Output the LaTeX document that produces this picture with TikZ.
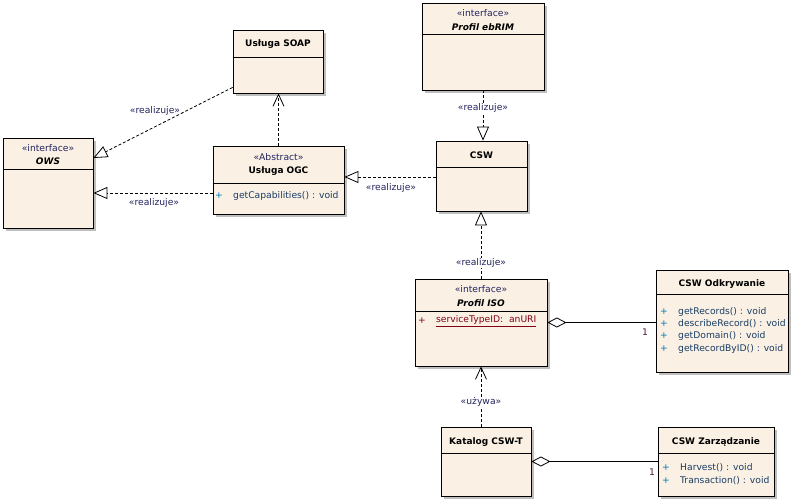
\documentclass[tikz,border=0pt]{standalone}
\usepackage{fontspec}
\setmainfont{DejaVu Sans}
\usepackage{tikz}
\usetikzlibrary{arrows.meta,shadows}
\definecolor{klasatlo}{RGB}{250,241,228}
\definecolor{cien}{RGB}{190,190,190}
\definecolor{opkolor}{RGB}{25,60,100}
\definecolor{pluskolor}{RGB}{0,120,185}
\definecolor{etykolor}{RGB}{35,35,95}
\definecolor{atrkolor}{RGB}{130,0,20}
\definecolor{krotkolor}{RGB}{90,20,60}

\begin{document}
\begin{tikzpicture}[x=1pt, y=-1pt,
  klasa/.style={draw, line width=0.8pt, fill=klasatlo, inner sep=0pt,
    general shadow={fill=cien, shadow xshift=3pt, shadow yshift=-3pt}},
  txt/.style={font=\fontsize{9.2}{11}\selectfont, inner sep=0pt},
  tytul/.style={txt, font=\fontsize{9}{11}\selectfont\bfseries},
  ityt/.style={txt, font=\fontsize{9}{11}\selectfont\bfseries\itshape},
  op/.style={txt, text=opkolor, anchor=west},
  plus/.style={txt, text=pluskolor},
  ety/.style={txt, text=etykolor},
  realiz/.style={line width=0.8pt, dash pattern=on 3pt off 2pt,
    -{Triangle[open, length=14pt, width=12pt, line width=0.8pt]}},
  uzywa/.style={line width=0.8pt, dash pattern=on 3pt off 2pt,
    -{Straight Barb[length=12pt, width=11pt, line width=0.8pt]}},
  agreg/.style={line width=0.8pt,
    {Diamond[open, length=19pt, width=10pt, line width=0.8pt]}-}]
\useasboundingbox (0,0) rectangle (804,503);

% klasy
\node[klasa, minimum width=90pt, minimum height=90pt] (ows) at (48,183) {};
\draw[line width=0.8pt] (ows.west |- 0,169) -- (ows.east |- 0,169);
\node[ety] (owsst) at (48,148) {«interface»};
\node[ityt] (owsnaz) at (48,161) {OWS};

\node[klasa, minimum width=90pt, minimum height=63pt] (soap) at (278,61.5) {};
\draw[line width=0.8pt] (soap.west |- 0,57) -- (soap.east |- 0,57);
\node[tytul] (soapnaz) at (278,44) {Usługa SOAP};

\node[klasa, minimum width=131pt, minimum height=68pt] (ogc) at (278.5,180) {};
\draw[line width=0.8pt] (ogc.west |- 0,183) -- (ogc.east |- 0,183);
\node[ety] (ogcst) at (278.5,157) {«Abstract»};
\node[tytul] (ogcnaz) at (278.5,171) {Usługa OGC};
\node[plus] (ogcplus) at (219,196) {+};
\node[op] (ogcop) at (233,196) {getCapabilities() : void};

\node[klasa, minimum width=122pt, minimum height=87pt] (ebrim) at (483,46.5) {};
\draw[line width=0.8pt] (ebrim.west |- 0,34) -- (ebrim.east |- 0,34);
\node[ety] (ebrimst) at (483,13) {«interface»};
\node[ityt] (ebrimnaz) at (483,27) {Profil ebRIM};

\node[klasa, minimum width=91pt, minimum height=70pt] (csw) at (481.5,176) {};
\draw[line width=0.8pt] (csw.west |- 0,167) -- (csw.east |- 0,167);
\node[tytul] (cswnaz) at (481.5,155) {CSW};

\node[klasa, minimum width=132pt, minimum height=87pt] (iso) at (481,322.5) {};
\draw[line width=0.8pt] (iso.west |- 0,311) -- (iso.east |- 0,311);
\node[ety] (isost) at (481,289) {«interface»};
\node[ityt] (isonaz) at (481,303) {Profil ISO};
\node[plus, text=atrkolor] (isoplus) at (422,321) {+};
\node[op, text=atrkolor] (isoatr) at (436,321) {\underline{serviceTypeID:\ \ anURI}};

\node[klasa, minimum width=132pt, minimum height=102pt] (odkr) at (722,321) {};
\draw[line width=0.8pt] (odkr.west |- 0,294) -- (odkr.east |- 0,294);
\node[tytul] (odkrnaz) at (722,284) {CSW Odkrywanie};
\foreach \y/\n/\t in {312/a/getRecords() : void, 324/b/describeRecord() : void,
    336/c/getDomain() : void, 349/d/getRecordByID() : void}{
  \node[plus] (odkrplus\n) at (664,\y) {+};
  \node[op] (odkrop\n) at (678,\y) {\t};
}

\node[klasa, minimum width=90pt, minimum height=69pt] (katalog) at (486,461.5) {};
\draw[line width=0.8pt] (katalog.west |- 0,453) -- (katalog.east |- 0,453);
\node[tytul] (katalognaz) at (486,442) {Katalog CSW-T};

\node[klasa, minimum width=116pt, minimum height=69pt] (zarz) at (716,461.5) {};
\draw[line width=0.8pt] (zarz.west |- 0,453) -- (zarz.east |- 0,453);
\node[tytul] (zarznaz) at (716,442) {CSW Zarządzanie};
\node[plus] (zarzplusa) at (666,468) {+};
\node[op] (zarzopa) at (680,468) {Harvest() : void};
\node[plus] (zarzplusb) at (666,481) {+};
\node[op] (zarzopb) at (680,481) {Transaction() : void};

% zaleznosci
\draw[uzywa] (ogc.north) -- (ogc.north |- soap.south);
\draw[realiz] ([yshift=6pt]soap.south west) -- ([yshift=25pt]ows.east);
\node[ety] (r1) at (155,111) {«realizuje»};
\draw[realiz] ([yshift=-13pt]ogc.west) -- ([yshift=-10pt]ows.east);
\node[ety] (r2) at (154,203) {«realizuje»};
\draw[realiz] ([yshift=-1pt]csw.west) -- ([yshift=-1pt]csw.west -| ogc.east);
\node[ety] (r3) at (391,188) {«realizuje»};
\draw[realiz] (ebrim.south) -- (ebrim.south |- csw.north);
\node[ety, fill=white, inner ysep=1pt] (r4) at (483,108) {«realizuje»};
\draw[realiz] (iso.north) -- (iso.north |- csw.south);
\node[ety, fill=white, inner ysep=1pt] (r5) at (481,263) {«realizuje»};
\draw[uzywa] (iso.south |- katalog.north) -- (iso.south);
\node[ety, fill=white, inner ysep=1pt] (u1) at (481,402) {«używa»};

% agregacje
\draw[agreg] (iso.east) -- (iso.east -| odkr.west);
\node[txt, text=krotkolor] (k1) at (645,332) {1};
\draw[agreg] (katalog.east) -- (katalog.east -| zarz.west);
\node[txt, text=krotkolor] (k2) at (652,472) {1};
\end{tikzpicture}
\end{document}
